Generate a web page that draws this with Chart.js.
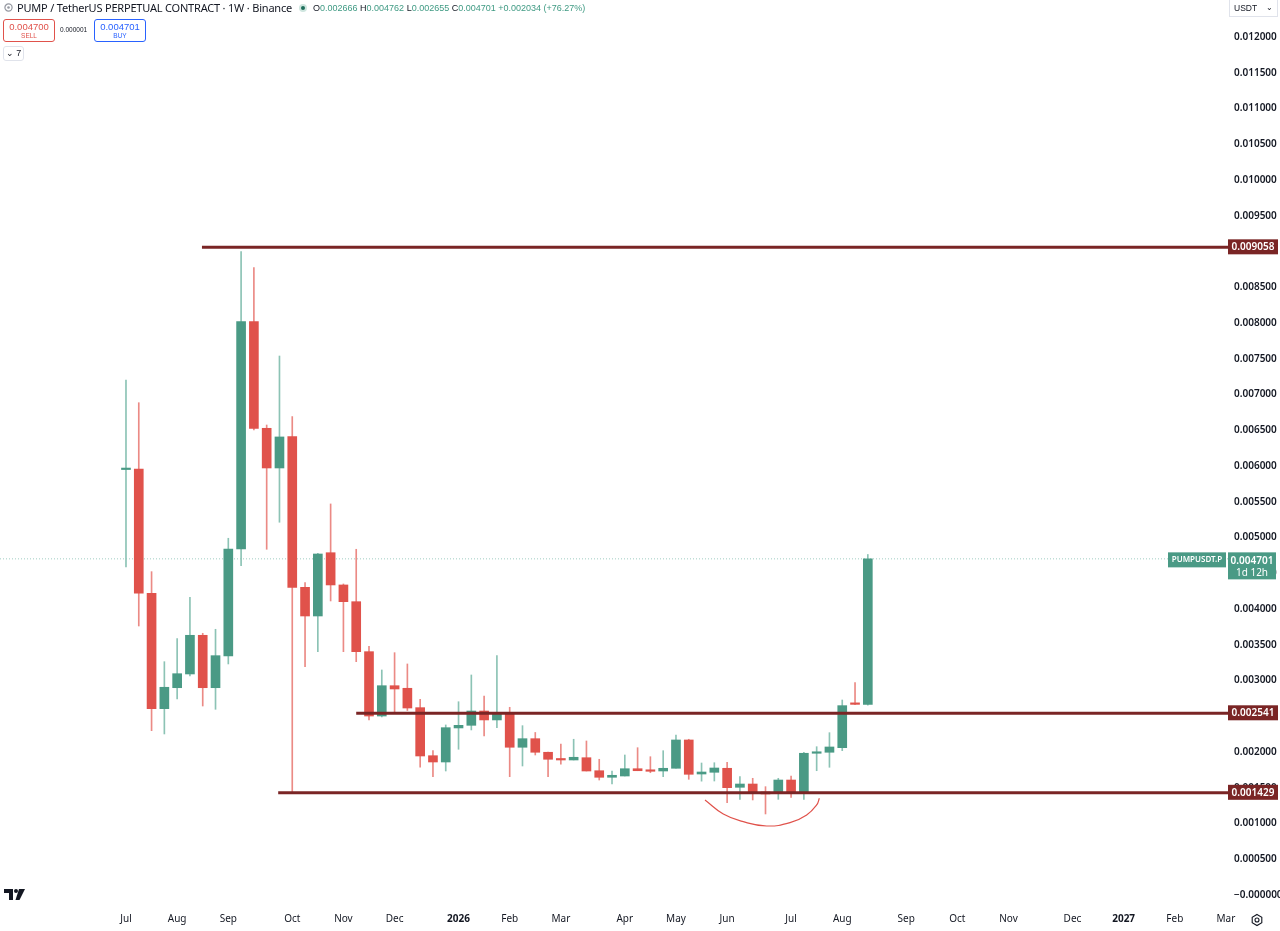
<!DOCTYPE html>
<html>
<head>
<meta charset="utf-8">
<script src="https://cdn.jsdelivr.net/npm/chart.js@4.4.1/dist/chart.umd.min.js"></script>
<style>
  html, body { margin: 0; padding: 0; background: #fff; overflow: hidden; }
  #wrap { position: relative; width: 1280px; height: 931px; font-family: "Liberation Sans", sans-serif; color: #131722; }
  #wrap canvas { position: absolute; left: 0; top: 0; }
  .abs { position: absolute; white-space: nowrap; }
  .title { left: 17px; top: 0; font-family: "Noto Sans", sans-serif; font-size: 11px; letter-spacing: -0.2px; line-height: 16px; }
  .ohlc { left: 299px; top: 1px; font-size: 9px; line-height: 14px; }
  .ohlc b { font-weight: normal; color: #131722; }
  .ohlc span { color: #3f9a83; }
  .dot { display: inline-block; width: 8px; height: 8px; border-radius: 50%; background: #1e6e5a; border: 2px solid #cfe6df; box-sizing: border-box; vertical-align: -1px; margin-right: 6px; }
  .btn { top: 19px; width: 52px; height: 23px; border-radius: 3px; box-sizing: border-box; text-align: center; font-size: 9.5px; line-height: 11px; padding-top: 1px; }
  .btn small { display: block; font-size: 6.5px; line-height: 8px; }
  .sell { left: 3px; border: 1px solid #e0524b; color: #e0524b; }
  .buy { left: 94px; border: 1px solid #2962ff; color: #2962ff; }
  .spread { left: 60px; top: 26px; font-size: 6.5px; color: #131722; }
  .legendbtn { left: 3px; top: 46px; width: 21px; height: 15px; border: 1px solid #e0e3eb; border-radius: 3px; box-sizing: border-box; font-size: 9px; line-height: 13px; text-align: center; }
  .usdt { left: 1229px; top: 0; width: 49px; height: 17px; border: 1px solid #e0e3eb; border-top: none; box-sizing: border-box; font-size: 8.5px; line-height: 16px; padding-left: 4px; }
  .usdt i { position: absolute; right: 4px; top: 0; font-style: normal; font-size: 8px; }
</style>
</head>
<body>
<div id="wrap">
  <canvas id="chart"></canvas>

  <svg class="abs" style="left:4px;top:3px" width="9" height="9" viewBox="0 0 9 9">
    <circle cx="4.5" cy="4.5" r="3.6" fill="none" stroke="#9598a1" stroke-width="1.2"/>
    <circle cx="4.5" cy="4.5" r="1.3" fill="#9598a1"/>
  </svg>
  <div class="abs title">PUMP / TetherUS PERPETUAL CONTRACT · 1W · Binance</div>
  <div class="abs ohlc"><i class="dot"></i><b>O</b><span>0.002666</span> <b>H</b><span>0.004762</span> <b>L</b><span>0.002655</span> <b>C</b><span>0.004701</span> <span>+0.002034 (+76.27%)</span></div>

  <div class="abs btn sell">0.004700<small>SELL</small></div>
  <div class="abs spread">0.000001</div>
  <div class="abs btn buy">0.004701<small>BUY</small></div>
  <div class="abs legendbtn">&#8964; 7</div>

  <div class="abs usdt">USDT<i>&#8964;</i></div>

  <svg class="abs" style="left:4px;top:889px" width="22" height="12" viewBox="0 0 22 12">
    <path d="M0 0 H9 V11 H5 V4 H0 Z" fill="#131722"/>
    <circle cx="12" cy="2" r="2" fill="#131722"/>
    <path d="M15 0 H21 L15.5 11 H11.5 Z" fill="#131722"/>
  </svg>
  <svg class="abs" style="left:1250px;top:913px" width="14" height="14" viewBox="0 0 14 14">
    <path d="M7 1.5 L11.8 4.25 V9.75 L7 12.5 L2.2 9.75 V4.25 Z" fill="none" stroke="#131722" stroke-width="1.1"/>
    <circle cx="7" cy="7" r="2" fill="none" stroke="#131722" stroke-width="1.1"/>
  </svg>
</div>

<script>
// weekly candles, first bar = week of 7 Jul 2025
const firstWeek = Date.UTC(2025, 6, 7);
const monthNames = ['Jan', 'Feb', 'Mar', 'Apr', 'May', 'Jun', 'Jul', 'Aug', 'Sep', 'Oct', 'Nov', 'Dec'];

const open = [
  0.005950, 0.005958, 0.004220, 0.002606, 0.002899, 0.003091, 0.003632, 0.002899, 0.003343, 0.004839,
  0.008018, 0.006527, 0.005972, 0.006410, 0.004303, 0.003902, 0.004787, 0.004336, 0.004102, 0.003403,
  0.002503, 0.002927, 0.002891, 0.002620, 0.001948, 0.001860, 0.002336, 0.002373, 0.002573, 0.002448,
  0.002541, 0.002066, 0.002186, 0.001996, 0.001906, 0.001888, 0.001920, 0.001738, 0.001646, 0.001664,
  0.001766, 0.001748, 0.001734, 0.001772, 0.002168, 0.001692, 0.001716, 0.001772, 0.001506, 0.001552,
  0.001441, 0.001422, 0.001608, 0.001422, 0.001982, 0.001996, 0.002060, 0.002680, 0.002666
];
const high = [
  0.007203, 0.006885, 0.004522, 0.003263, 0.003585, 0.004164, 0.003660, 0.003716, 0.004989, 0.008997,
  0.008773, 0.006573, 0.007538, 0.006690, 0.004368, 0.004779, 0.005469, 0.004350, 0.004835, 0.003476,
  0.003147, 0.003389, 0.003231, 0.002737, 0.002018, 0.002378, 0.002703, 0.003077, 0.002783, 0.003347,
  0.002625, 0.002368, 0.002273, 0.002000, 0.002112, 0.002178, 0.002154, 0.001898, 0.001734, 0.001958,
  0.002060, 0.001934, 0.002018, 0.002238, 0.002178, 0.001846, 0.001850, 0.001856, 0.001655, 0.001632,
  0.001515, 0.001632, 0.001664, 0.001996, 0.002074, 0.002270, 0.002727, 0.002969, 0.004762
];
const low = [
  0.004587, 0.003762, 0.002298, 0.002252, 0.002741, 0.003063, 0.002643, 0.002597, 0.003231, 0.004606,
  0.006503, 0.004835, 0.005213, 0.001429, 0.003193, 0.003403, 0.004112, 0.003403, 0.003263, 0.002448,
  0.002490, 0.002559, 0.002580, 0.001786, 0.001655, 0.001734, 0.002038, 0.002308, 0.002224, 0.002340,
  0.001655, 0.001804, 0.001958, 0.001655, 0.001828, 0.001888, 0.001734, 0.001608, 0.001552, 0.001664,
  0.001738, 0.001710, 0.001655, 0.001772, 0.001618, 0.001592, 0.001594, 0.001291, 0.001338, 0.001329,
  0.001133, 0.001338, 0.001366, 0.001338, 0.001738, 0.001786, 0.002018, 0.002660, 0.002655
];
const close = [
  0.005962, 0.004220, 0.002606, 0.002905, 0.003095, 0.003632, 0.002899, 0.003347, 0.004839, 0.008018,
  0.006527, 0.005972, 0.006406, 0.004303, 0.003902, 0.004769, 0.004336, 0.004102, 0.003403, 0.002503,
  0.002927, 0.002881, 0.002615, 0.001944, 0.001860, 0.002340, 0.002373, 0.002573, 0.002448, 0.002541,
  0.002066, 0.002186, 0.001996, 0.001898, 0.001888, 0.001926, 0.001734, 0.001646, 0.001674, 0.001766,
  0.001738, 0.001730, 0.001772, 0.002168, 0.001688, 0.001720, 0.001776, 0.001501, 0.001552, 0.001445,
  0.001413, 0.001608, 0.001422, 0.001982, 0.002000, 0.002070, 0.002648, 0.002666, 0.004701
];

// drawn horizontal levels (price, first week they start at)
const levels = [0.009058, 0.002541, 0.001429];
const levelFrom = [5.94, 18, 11.9];
const lastPrice = 0.004701;

// hand drawn arc under the base (week, price)
const curveX = [45.27, 46.70, 48.26, 50.09, 51.92, 53.22, 54.00, 54.21];
const curveY = [0.001329, 0.001133, 0.001025, 0.000965, 0.001011, 0.001119, 0.001259, 0.001352];

const yTickValues = [
  0, 0.0005, 0.001, 0.0015, 0.002, 0.0025, 0.003, 0.0035, 0.004, 0.0045, 0.005, 0.0055, 0.006,
  0.0065, 0.007, 0.0075, 0.008, 0.0085, 0.009, 0.0095, 0.010, 0.0105, 0.011, 0.0115, 0.012
];

const X_MIN = -9.85, X_MAX = 86.16;
const Y_MIN = -0.000182, Y_MAX = 0.012517;

const UP = '#4a9a85', DOWN = '#e0524b';
const UP_WICK = '#8cc3b5', DOWN_WICK = '#eb8a85';
const LEVEL = '#7a2525';
const TEXT = '#131722';

const up = open.map((o, i) => close[i] >= o);

// month labels at the first weekly bar of every month
const monthTicks = [];
for (let i = 0; i <= Math.floor(X_MAX); i++) {
  const d = new Date(firstWeek + i * 7 * 864e5);
  const p = new Date(firstWeek + (i - 1) * 7 * 864e5);
  if (i === 0 || d.getUTCMonth() !== p.getUTCMonth()) {
    const m = d.getUTCMonth();
    monthTicks.push({ value: i, name: m === 0 ? String(d.getUTCFullYear()) : monthNames[m], bold: m === 0 });
  }
}

const overlay = {
  id: 'overlay',
  afterDraw(chart) {
    const { ctx, chartArea } = chart;
    const y = chart.scales.y;
    const r = chartArea.right;
    ctx.save();
    ctx.textAlign = 'center';
    ctx.textBaseline = 'middle';
    ctx.font = '600 10px "Noto Sans"';
    levels.forEach((v) => {
      const py = y.getPixelForValue(v);
      ctx.fillStyle = LEVEL;
      ctx.fillRect(r, py - 8, 50, 15);
      ctx.fillStyle = '#fff';
      ctx.fillText(v.toFixed(6), r + 25, py);
    });
    const py = y.getPixelForValue(lastPrice);
    ctx.fillStyle = UP;
    ctx.fillRect(r - 60, py - 6.5, 58, 15);
    ctx.fillRect(r, py - 6.5, 48, 27);
    ctx.fillStyle = '#fff';
    ctx.font = '600 8px "Noto Sans"';
    ctx.fillText('PUMPUSDT.P', r - 31, py + 1);
    ctx.font = '600 10px "Noto Sans"';
    ctx.fillText(lastPrice.toFixed(6), r + 24, py + 2.5);
    ctx.font = '10px "Noto Sans"';
    ctx.fillText('1d 12h', r + 24, py + 14);
    ctx.restore();
  }
};

const levelSets = levels.map((v, i) => ({
  type: 'line',
  data: [{ x: levelFrom[i], y: v }, { x: X_MAX, y: v }],
  borderColor: LEVEL,
  borderWidth: 3,
  pointRadius: 0,
  order: 0
}));

// @ts-ignore
new Chart(document.getElementById('chart'), {
  type: 'bar',
  data: {
    datasets: [
      ...levelSets,
      {
        type: 'line',
        data: curveX.map((x, i) => ({ x, y: curveY[i] })),
        borderColor: DOWN,
        borderWidth: 1.2,
        pointRadius: 0,
        tension: 0.45,
        order: 0
      },
      {
        data: open.map((o, i) => ({ x: i, y: [o, close[i]] })),
        backgroundColor: up.map((u) => u ? UP : DOWN),
        barThickness: 9,
        minBarLength: 1.5,
        grouped: false,
        order: 1
      },
      {
        data: low.map((l, i) => ({ x: i, y: [l, high[i]] })),
        backgroundColor: up.map((u) => u ? UP_WICK : DOWN_WICK),
        barThickness: 1,
        grouped: false,
        order: 2
      },
      {
        type: 'line',
        data: [{ x: X_MIN, y: lastPrice }, { x: X_MAX, y: lastPrice }],
        borderColor: '#9fcdc2',
        borderWidth: 1,
        borderDash: [1, 2],
        pointRadius: 0,
        order: 3
      }
    ]
  },
  options: {
    responsive: true,
    maintainAspectRatio: false,
    animation: false,
    layout: { padding: 0 },
    plugins: {
      legend: { display: false },
      tooltip: { enabled: false }
    },
    scales: {
      x: {
        type: 'linear',
        min: X_MIN,
        max: X_MAX,
        offset: false,
        grid: { display: false, drawTicks: false },
        border: { display: false },
        afterFit: (s) => { s.height = 23; s.paddingLeft = 0; s.paddingRight = 0; },
        afterBuildTicks: (s) => { s.ticks = monthTicks.map((t) => ({ ...t })); },
        ticks: {
          autoSkip: false,
          maxRotation: 0,
          padding: 5,
          color: TEXT,
          font: (c) => ({ family: 'Noto Sans', size: 10, weight: c.tick && c.tick.bold ? 'bold' : 'normal' }),
          callback: (v, i, t) => t[i].name
        }
      },
      y: {
        position: 'right',
        min: Y_MIN,
        max: Y_MAX,
        grid: { display: false, drawTicks: false },
        border: { display: false },
        afterFit: (s) => { s.width = 52; s.paddingTop = 0; s.paddingBottom = 0; },
        afterBuildTicks: (s) => { s.ticks = yTickValues.map((v) => ({ value: v })); },
        ticks: {
          padding: 6,
          color: TEXT,
          font: { family: 'Noto Sans', size: 10, weight: '600' },
          callback: (v) => v === 0 ? '\u22120.000000' : Number(v).toFixed(6)
        }
      }
    }
  },
  plugins: [overlay]
});
</script>
</body>
</html>
